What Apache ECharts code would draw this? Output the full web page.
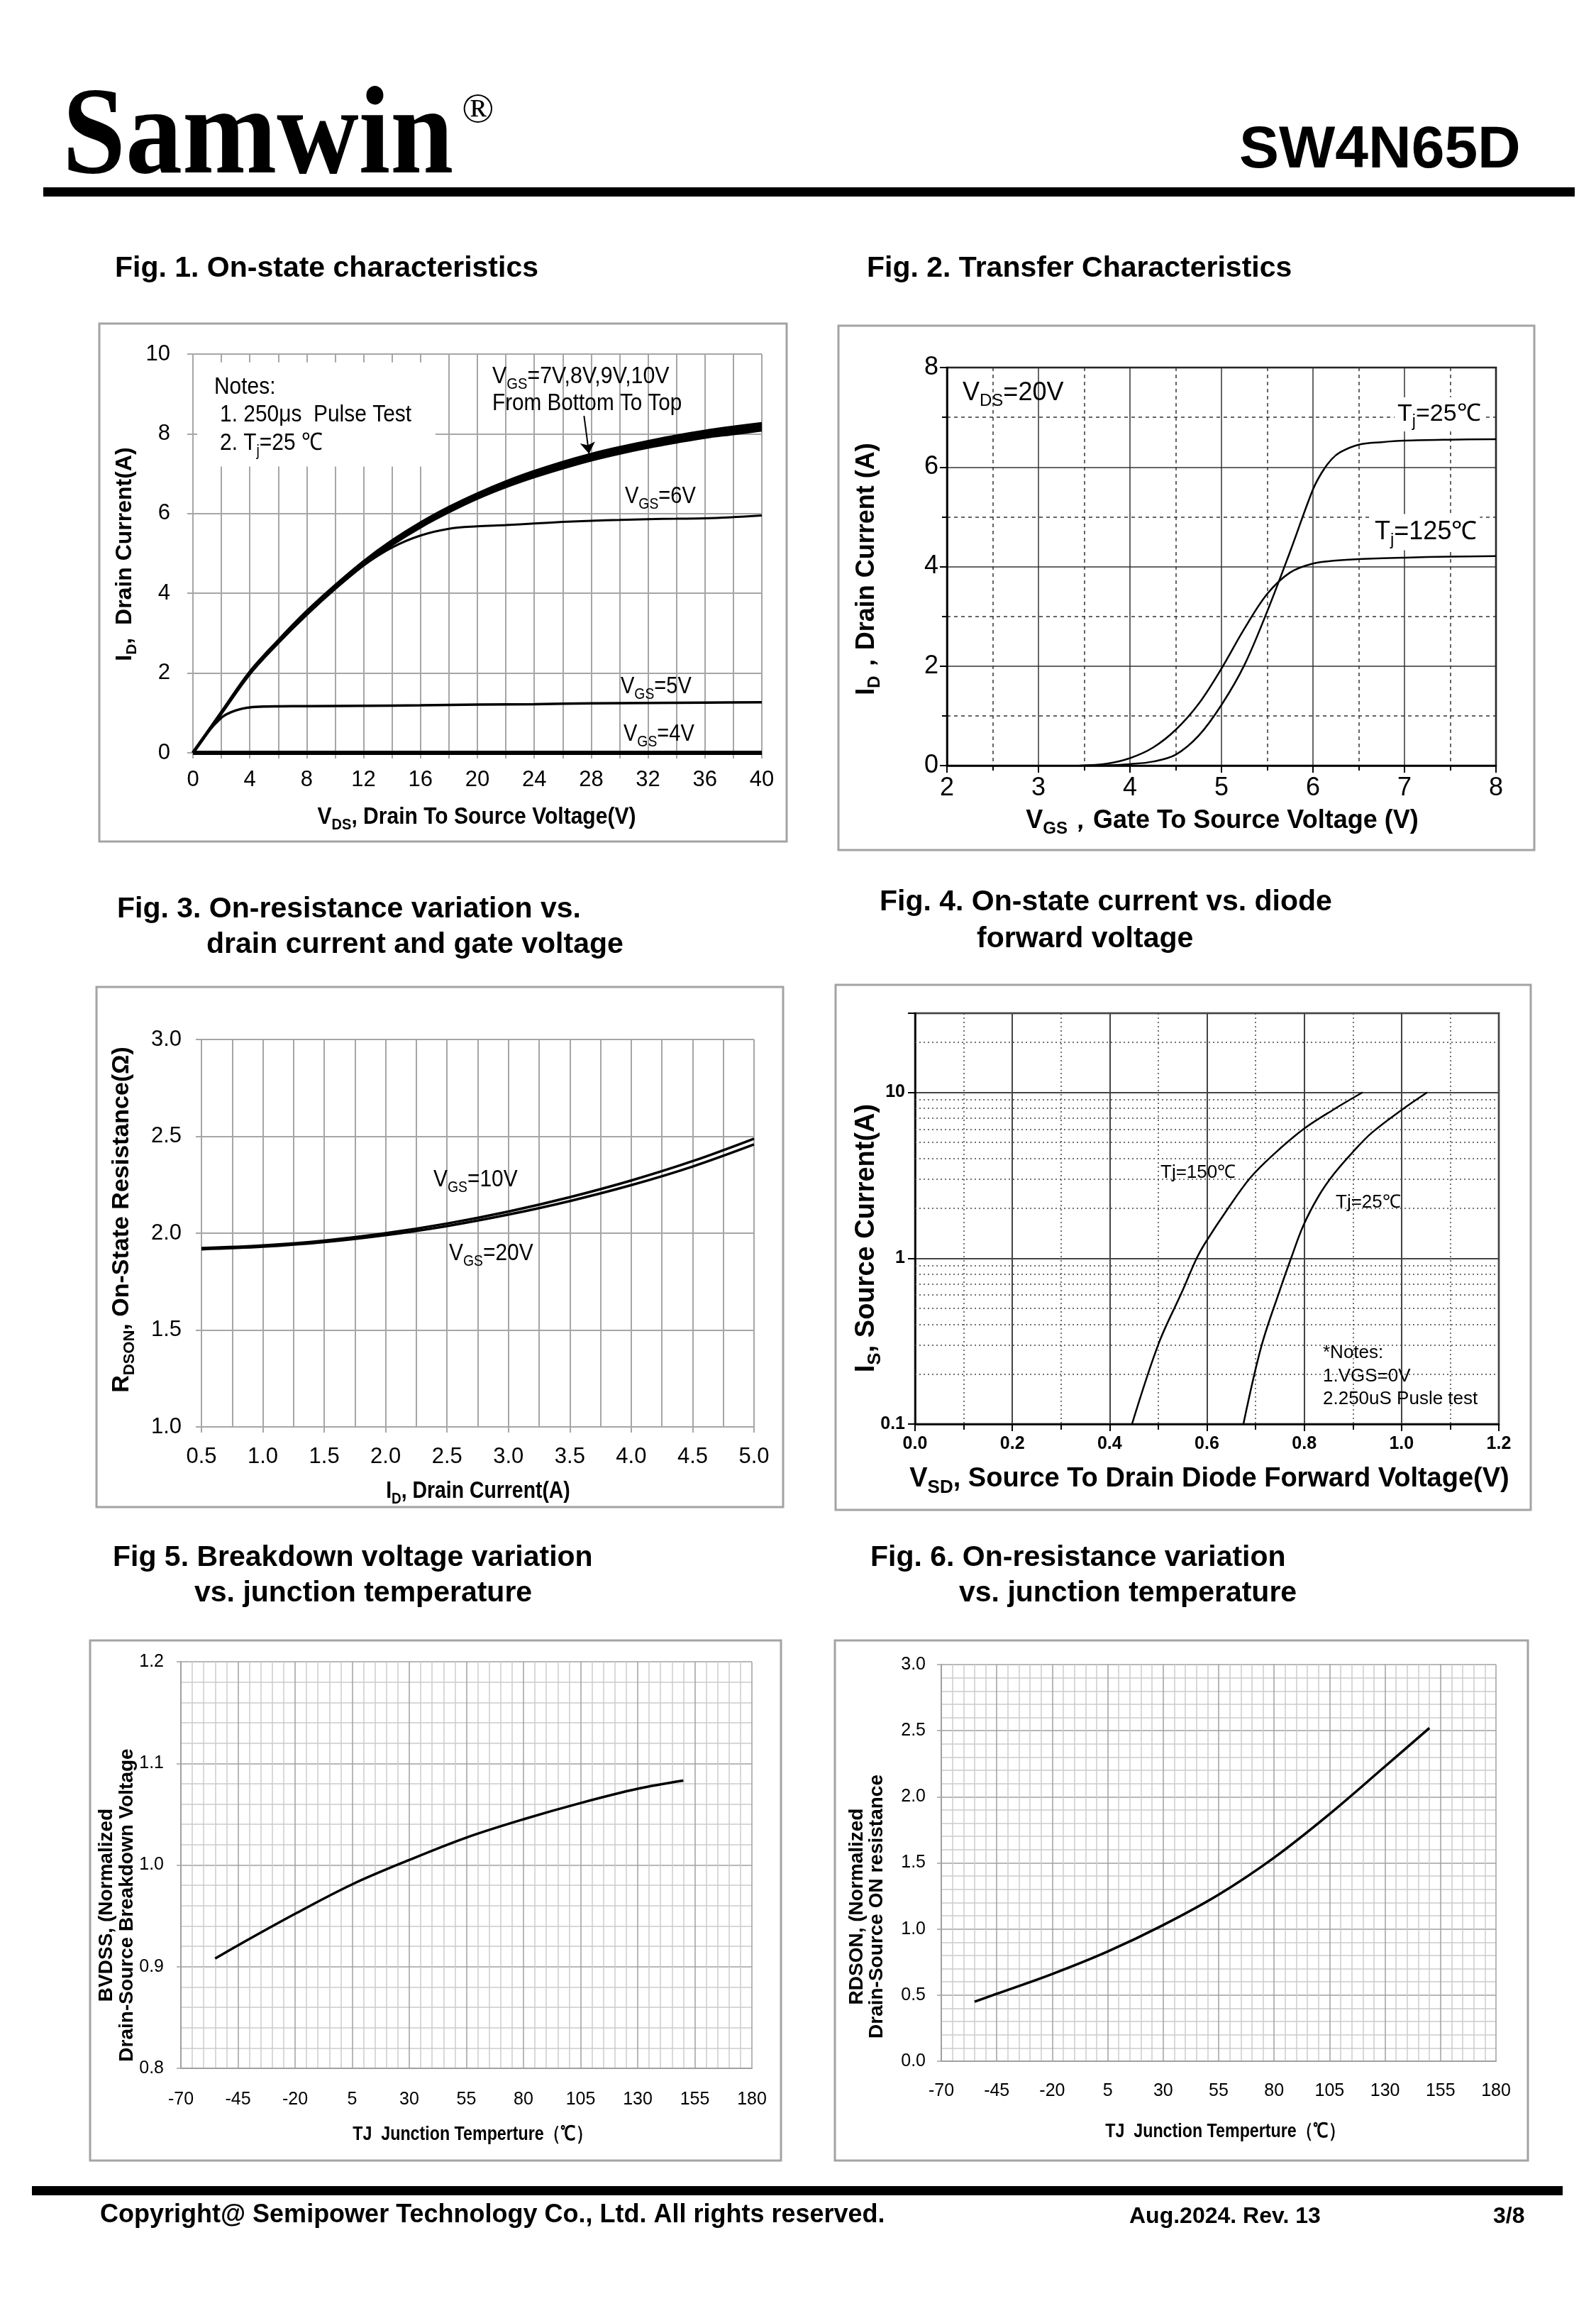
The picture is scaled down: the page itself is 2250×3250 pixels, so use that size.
<!DOCTYPE html>
<html><head><meta charset="utf-8">
<script src="https://cdn.jsdelivr.net/npm/echarts@6/dist/echarts.min.js"></script>
<style>html,body{margin:0;padding:0;background:#fff}#c{width:2250px;height:3250px}</style>
</head><body><div id="c"></div>
<script>
// ---------------- DATA ----------------
// Fig.1 On-state characteristics (VDS in V, ID in A)
const f1Vds = [0,2,4,6,8,10,12,14,16,18,20,22,24,26,28,30,32,34,36,38,40];
const f1Id10 = [0,1.02,2.03,2.82,3.55,4.20,4.80,5.32,5.77,6.16,6.50,6.80,7.06,7.29,7.49,7.66,7.81,7.95,8.07,8.17,8.26];
const f1Id9  = [0,1.01,2.02,2.80,3.53,4.18,4.77,5.28,5.74,6.12,6.46,6.75,7.01,7.24,7.44,7.61,7.76,7.89,8.01,8.11,8.20];
const f1Id8  = [0,1.00,2.00,2.78,3.50,4.15,4.74,5.25,5.70,6.08,6.42,6.71,6.97,7.19,7.39,7.56,7.71,7.84,7.96,8.06,8.15];
const f1Id7  = [0,0.99,1.98,2.76,3.47,4.12,4.71,5.22,5.66,6.04,6.38,6.67,6.92,7.14,7.34,7.51,7.66,7.79,7.91,8.00,8.09];
const f1Id6  = [0,0.99,1.98,2.76,3.47,4.12,4.70,5.15,5.45,5.62,5.68,5.71,5.75,5.79,5.82,5.84,5.86,5.87,5.88,5.91,5.95];
const f1Vds5 = [0,1,2,2.5,3,3.5,4,5,6,8,12,16,20,24,28,32,36,40];
const f1Id5  = [0,0.5,0.88,0.99,1.06,1.11,1.14,1.16,1.165,1.17,1.18,1.19,1.21,1.22,1.24,1.25,1.26,1.27];
const f1Vds4 = [0,40];
const f1Id4  = [0,0];
const f1XRange = [0,40,2];
const f1YRange = [0,10,2];

// Fig.2 Transfer characteristics (VGS in V, ID in A)
const f2Vgs25  = [3.5,3.75,4.0,4.25,4.5,4.75,5.0,5.25,5.5,5.75,6.0,6.1,6.2,6.3,6.5,6.75,7.0,7.5,8.0];
const f2Id25   = [0,0.005,0.03,0.08,0.22,0.6,1.22,2.02,3.1,4.3,5.55,5.9,6.15,6.3,6.45,6.5,6.53,6.55,6.56];
const f2Vgs125 = [3.45,3.75,4.0,4.25,4.5,4.75,5.0,5.25,5.5,5.75,6.0,6.25,6.5,7.0,7.5,8.0];
const f2Id125  = [0,0.04,0.15,0.36,0.72,1.24,1.95,2.75,3.45,3.88,4.06,4.12,4.15,4.18,4.2,4.21];
const f2XRange = [2,8,1];
const f2YRange = [0,8,2];

// Fig.3 RDS(on) vs drain current (ID in A, R in ohm)
const f3Id  = [0.5,1.0,1.5,2.0,2.5,3.0,3.5,4.0,4.5,5.0];
const f3R10 = [1.923,1.937,1.962,2.000,2.050,2.112,2.186,2.272,2.372,2.488];
const f3R20 = [1.917,1.930,1.954,1.990,2.037,2.096,2.166,2.248,2.344,2.458];
const f3XRange = [0.5,5,0.5];
const f3YRange = [1,3,0.5];

// Fig.4 Diode forward characteristics (VSD in V, IS in A, log)
const f4Vsd150 = [0.446,0.501,0.548,0.579,0.599,0.642,0.689,0.736,0.8,0.861,0.92];
const f4Is150  = [0.1,0.307,0.62,1.0,1.27,1.97,3.05,4.2,6.05,7.9,10];
const f4Vsd25  = [0.675,0.712,0.751,0.773,0.798,0.83,0.861,0.9,0.939,1.002,1.053];
const f4Is25   = [0.1,0.295,0.656,1.0,1.57,2.38,3.22,4.37,5.71,7.9,10];
const f4XRange = [0,1.2,0.2];
const f4YRange = [0.1,30];
const f4MinorY = [0.2,0.3,0.4,0.5,0.6,0.7,0.8,0.9,2,3,4,5,6,7,8,9,20];

// Fig.5 Normalized BVDSS vs TJ
const f5T  = [-55,-45,-20,5,30,55,80,105,130,150];
const f5BV = [0.908,0.921,0.952,0.981,1.005,1.027,1.045,1.061,1.075,1.083];
const f5XRange = [-70,180,5];
const f5YRange = [0.8,1.2,0.1];

// Fig.6 Normalized RDS(on) vs TJ
const f6T = [-55,-45,-20,5,30,55,80,105,130,150];
const f6R = [0.45,0.51,0.66,0.83,1.03,1.26,1.54,1.87,2.23,2.52];
const f6XRange = [-70,180,5];
const f6YRange = [0,3,0.5];

// ---------------- STYLE ----------------
const SANS = "'Liberation Sans',Arial,sans-serif";
const SERIF = "'Liberation Serif','Times New Roman',serif";
const G = '#a6a6a6';
const GM = '#a0a0a0';
const GL = '#cccccc';

function zip(a, b) { return a.map((x, i) => [x, b[i]]); }
function subRich(fm, fs, fam, wt, drop) {
  const LH = Math.round(fm * 1.3);
  const h = LH - 0.7 * (fm - fs) - 2 * drop;
  return {
    m: {fontSize: fm, fontFamily: fam, fontWeight: wt, lineHeight: LH, verticalAlign: 'middle', fill: '#000'},
    s: {fontSize: fs, fontFamily: fam, fontWeight: wt, lineHeight: h, verticalAlign: 'bottom', fill: '#000'}
  };
}
function txt(x, y, text, o) {
  o = o || {};
  const st = {text: text, fill: '#000', font: (o.weight || 'normal') + ' ' + (o.size || 32) + 'px ' + (o.family || SANS),
    align: o.align || 'left', verticalAlign: 'middle'};
  if (o.rich) st.rich = o.rich;
  if (o.bg) { st.backgroundColor = o.bg; st.padding = o.pad || [2, 4]; }
  return {type: 'text', x: x, y: y, rotation: o.rot || 0, scaleX: o.sx || 1, scaleY: o.sy || 1,
    z: 100, silent: true, style: st};
}
function frame(x, y, w, h) {
  return {type: 'rect', shape: {x: x, y: y, width: w, height: h}, z: 1, silent: true,
    style: {fill: 'none', stroke: '#a3a3a3', lineWidth: 3}};
}
function bar(x, y, w, h) {
  return {type: 'rect', shape: {x: x, y: y, width: w, height: h}, z: 1, silent: true, style: {fill: '#000'}};
}
function lineSeries(gi, xs, ys, width, extra) {
  return Object.assign({type: 'line', xAxisIndex: gi, yAxisIndex: gi, data: zip(xs, ys), symbol: 'none',
    showSymbol: false, smooth: 0.35, silent: true, animation: false, z: 5,
    lineStyle: {color: '#000', width: width}}, extra || {});
}
const fix1 = v => v.toFixed(1);
const lab = (fam, size, margin, weight, fmt) => ({fontFamily: fam, fontSize: size, margin: margin, color: '#000',
  fontWeight: weight || 'normal', formatter: fmt});

// ---------------- AXES ----------------
const grids = [
  {left: 272, top: 499, width: 802, height: 562},
  {left: 1335, top: 518, width: 774, height: 561, show: true, borderColor: '#000', borderWidth: 2.5},
  {left: 284, top: 1465, width: 779, height: 546},
  {left: 1290, top: 1428, width: 823, height: 579, show: true, borderColor: '#000', borderWidth: 2.5},
  {left: 255, top: 2342, width: 805, height: 573},
  {left: 1327, top: 2346, width: 782, height: 559}
];

const grayLine = (c, w) => ({lineStyle: {color: c, width: w}});
const xAxes = [
  {gridIndex: 0, type: 'value', min: f1XRange[0], max: f1XRange[1], interval: f1XRange[2],
    axisLine: Object.assign({onZero: false}, grayLine(G, 2)), axisTick: Object.assign({length: 8}, grayLine(G, 2)),
    splitLine: grayLine(G, 2), axisLabel: lab(SANS, 31, 23, 'normal', v => (v % 4 === 0 ? String(v) : ''))},
  {gridIndex: 1, type: 'value', min: f2XRange[0], max: f2XRange[1], interval: f2XRange[2],
    axisLine: {onZero: false, lineStyle: {color: '#000', width: 2.5}}, axisTick: {length: 10, lineStyle: {color: '#000', width: 2}},
    minorTick: {show: true, splitNumber: 2, length: 7, lineStyle: {color: '#000', width: 2}},
    splitLine: {lineStyle: {color: '#333', width: 1.5}},
    minorSplitLine: {show: true, lineStyle: {color: '#333', width: 1.5, type: [5, 5]}},
    axisLabel: lab(SANS, 36, 14)},
  {gridIndex: 2, type: 'value', min: f3XRange[0], max: f3XRange[1], interval: f3XRange[2],
    axisLine: Object.assign({onZero: false}, grayLine(G, 2)), axisTick: Object.assign({length: 8}, grayLine(G, 2)),
    splitLine: grayLine(G, 2), minorSplitLine: Object.assign({show: true}, grayLine(G, 2)), minorTick: {show: false, splitNumber: 2},
    axisLabel: lab(SANS, 31, 27, 'normal', fix1)},
  {gridIndex: 3, type: 'value', min: f4XRange[0], max: f4XRange[1], interval: f4XRange[2],
    axisLine: {onZero: false, lineStyle: {color: '#000', width: 2.5}}, axisTick: {length: 10, lineStyle: {color: '#000', width: 2}},
    minorTick: {show: true, splitNumber: 2, length: 8, lineStyle: {color: '#000', width: 2}},
    splitLine: {lineStyle: {color: '#444', width: 2}},
    minorSplitLine: {show: true, lineStyle: {color: '#444', width: 1.5, type: [2, 4]}},
    axisLabel: lab(SANS, 25, 16, 'bold', fix1)},
  {gridIndex: 4, type: 'value', min: f5XRange[0], max: f5XRange[1], interval: f5XRange[2],
    axisLine: Object.assign({onZero: false}, grayLine(GM, 2)), axisTick: {show: false},
    splitLine: {lineStyle: {color: [GM, GL, GL, GL, GL], width: 1.5}},
    axisLabel: lab(SANS, 25, 32, 'normal', v => ((v + 70) % 25 === 0 ? String(v) : ''))},
  {gridIndex: 5, type: 'value', min: f6XRange[0], max: f6XRange[1], interval: f6XRange[2],
    axisLine: Object.assign({onZero: false}, grayLine(GM, 2)), axisTick: {show: false},
    splitLine: {lineStyle: {color: [GM, GL, GL, GL, GL], width: 1.5}},
    axisLabel: lab(SANS, 25, 30, 'normal', v => ((v + 70) % 25 === 0 ? String(v) : ''))}
];
const yAxes = [
  {gridIndex: 0, type: 'value', min: f1YRange[0], max: f1YRange[1], interval: f1YRange[2],
    axisLine: Object.assign({show: true, onZero: false}, grayLine(G, 2)), axisTick: Object.assign({show: true, length: 8}, grayLine(G, 2)),
    splitLine: grayLine(G, 2), axisLabel: lab(SANS, 31, 32)},
  {gridIndex: 1, type: 'value', min: f2YRange[0], max: f2YRange[1], interval: f2YRange[2],
    axisLine: {show: true, onZero: false, lineStyle: {color: '#000', width: 2.5}}, axisTick: {show: true, length: 10, lineStyle: {color: '#000', width: 2}},
    minorTick: {show: true, splitNumber: 2, length: 7, lineStyle: {color: '#000', width: 2}},
    splitLine: {lineStyle: {color: '#333', width: 1.5}},
    minorSplitLine: {show: true, lineStyle: {color: '#333', width: 1.5, type: [5, 5]}},
    axisLabel: lab(SANS, 36, 12)},
  {gridIndex: 2, type: 'value', min: f3YRange[0], max: f3YRange[1], interval: f3YRange[2],
    axisLine: Object.assign({show: true, onZero: false}, grayLine(G, 2)), axisTick: Object.assign({show: true, length: 8}, grayLine(G, 2)),
    splitLine: grayLine(G, 2), axisLabel: lab(SANS, 31, 28, 'normal', fix1)},
  {gridIndex: 3, type: 'log', logBase: 10, min: f4YRange[0], max: f4YRange[1],
    axisLine: {show: true, onZero: false, lineStyle: {color: '#000', width: 2.5}}, axisTick: {show: true, length: 10, lineStyle: {color: '#000', width: 2}},
    splitLine: {lineStyle: {color: '#444', width: 2}},
    axisLabel: lab(SANS, 25, 14, 'bold', v => {
      const e = Math.log10(v);
      if (Math.abs(e - Math.round(e)) > 1e-6 || v > 10.001) return '';
      return v < 1 ? '0.1' : String(Math.round(v));
    })},
  {gridIndex: 4, type: 'value', min: f5YRange[0], max: f5YRange[1], interval: f5YRange[2],
    axisLine: Object.assign({show: true, onZero: false}, grayLine(GM, 2)), axisTick: Object.assign({show: true, length: 6}, grayLine(GM, 1.5)),
    splitLine: grayLine(GM, 1.5), minorTick: {show: false, splitNumber: 5},
    minorSplitLine: Object.assign({show: true}, grayLine(GL, 1.5)),
    axisLabel: lab(SANS, 25, 24, 'normal', fix1)},
  {gridIndex: 5, type: 'value', min: f6YRange[0], max: f6YRange[1], interval: f6YRange[2],
    axisLine: Object.assign({show: true, onZero: false}, grayLine(GM, 2)), axisTick: Object.assign({show: true, length: 6}, grayLine(GM, 1.5)),
    splitLine: grayLine(GM, 1.5), minorTick: {show: false, splitNumber: 5},
    minorSplitLine: Object.assign({show: true}, grayLine(GL, 1.5)),
    axisLabel: lab(SANS, 25, 22, 'normal', fix1)}
];

// ---------------- SERIES ----------------
const series = [
  lineSeries(0, f1Vds, f1Id7, 4),
  lineSeries(0, f1Vds, f1Id8, 4),
  lineSeries(0, f1Vds, f1Id9, 4),
  lineSeries(0, f1Vds, f1Id10, 4, {
    markLine: {silent: true, symbol: ['none', 'arrow'], symbolSize: 16, animation: false,
      lineStyle: {color: '#000', width: 2, type: 'solid'}, label: {show: false},
      data: [[{coord: [27.5, 8.45]}, {coord: [27.85, 7.5]}]]}
  }),
  lineSeries(0, f1Vds, f1Id6, 3),
  lineSeries(0, f1Vds5, f1Id5, 3.5),
  lineSeries(0, f1Vds4, f1Id4, 6, {
    markArea: {silent: true, itemStyle: {color: '#fff'}, animation: false,
      data: [[{coord: [0.3, 7.18]}, {coord: [17.05, 9.79]}]]}
  }),
  lineSeries(1, f2Vgs25, f2Id25, 2.5),
  lineSeries(1, f2Vgs125, f2Id125, 2.5),
  lineSeries(2, f3Id, f3R10, 3.5),
  lineSeries(2, f3Id, f3R20, 3.5),
  lineSeries(3, f4Vsd150, f4Is150, 2.5, {
    markLine: {silent: true, symbol: 'none', animation: false, label: {show: false},
      lineStyle: {color: '#444', width: 1.5, type: [2, 4]},
      data: f4MinorY.map(v => ({yAxis: v}))}
  }),
  lineSeries(3, f4Vsd25, f4Is25, 2.5),
  lineSeries(4, f5T, f5BV, 3.5),
  lineSeries(5, f6T, f6R, 3.5)
];

// ---------------- TEXT / LAYOUT ----------------
const PI2 = Math.PI / 2;
const NX = 0.88; // horizontal condensing for narrow-style text
const rN = subRich(33, 22, SANS, 'normal', 6);
const graphic = [
  // header
  txt(88, 198, 'Samwin', {size: 160, weight: 'bold', family: SERIF, sy: 1.1}),
  txt(651, 156, '®', {size: 60, family: SERIF}),
  txt(1747, 213, 'SW4N65D', {size: 84, weight: 'bold'}),
  bar(61, 264, 2159, 13),
  // footer
  bar(45, 3081, 2158, 13),
  txt(141, 3122, 'Copyright@ Semipower Technology Co., Ltd. All rights reserved.', {size: 36, weight: 'bold'}),
  txt(1592, 3124, 'Aug.2024. Rev. 13', {size: 32, weight: 'bold'}),
  txt(2105, 3124, '3/8', {size: 32, weight: 'bold'}),
  // figure titles
  txt(162, 379, 'Fig. 1. On-state characteristics', {size: 41, weight: 'bold'}),
  txt(1222, 379, 'Fig. 2. Transfer Characteristics', {size: 41, weight: 'bold'}),
  txt(165, 1282, 'Fig. 3. On-resistance variation vs.', {size: 41, weight: 'bold'}),
  txt(291, 1332, 'drain current and gate voltage', {size: 41, weight: 'bold'}),
  txt(1240, 1272, 'Fig. 4. On-state current vs. diode', {size: 41, weight: 'bold'}),
  txt(1377, 1324, 'forward voltage', {size: 41, weight: 'bold'}),
  txt(159, 2196, 'Fig 5. Breakdown voltage variation', {size: 41, weight: 'bold'}),
  txt(274, 2246, 'vs. junction temperature', {size: 41, weight: 'bold'}),
  txt(1227, 2196, 'Fig. 6. On-resistance variation', {size: 41, weight: 'bold'}),
  txt(1352, 2246, 'vs. junction temperature', {size: 41, weight: 'bold'}),
  // frames
  frame(140, 456, 969, 730), frame(1182, 459, 981, 739), frame(136, 1391, 968, 733),
  frame(1178, 1388, 980, 740), frame(127, 2312, 974, 733), frame(1177, 2312, 977, 733),
  // Fig1 text
  txt(302, 546, 'Notes:', {size: 34, sx: NX}),
  txt(310, 585, '1. 250μs  Pulse Test', {size: 34, sx: NX}),
  txt(310, 625, '{m|2. T}{s|j}{m|=25 ℃}', {rich: subRich(34, 22, SANS, 'normal', 6), sx: NX}),
  txt(694, 531, '{m|V}{s|GS}{m|=7V,8V,9V,10V}', {rich: rN, sx: 0.92}),
  txt(694, 569, 'From Bottom To Top', {size: 33, sx: 0.9}),
  txt(881, 700, '{m|V}{s|GS}{m|=6V}', {rich: rN, sx: NX}),
  txt(875, 968, '{m|V}{s|GS}{m|=5V}', {rich: rN, sx: NX}),
  txt(879, 1035, '{m|V}{s|GS}{m|=4V}', {rich: rN, sx: NX}),
  txt(176, 781, '{m|I}{s|D}{m|,  Drain Current(A)}', {rot: PI2, align: 'center', rich: subRich(32, 21, SANS, 'bold', 6)}),
  txt(672, 1152, '{m|V}{s|DS}{m|, Drain To Source Voltage(V)}', {align: 'center', sx: 0.91, rich: subRich(33, 22, SANS, 'bold', 6)}),
  // Fig2 text
  txt(1357, 554, '{m|V}{s|DS}{m|=20V}', {rich: subRich(36, 24, SANS, 'normal', 0)}),
  txt(1966, 584, '{m|T}{s|j}{m|=25℃}', {rich: subRich(34, 23, SANS, 'normal', 5), bg: '#fff', pad: [2, 4]}),
  txt(1934, 750, '{m|T}{s|j}{m|=125℃}', {rich: subRich(36, 24, SANS, 'normal', 5), bg: '#fff', pad: [2, 4]}),
  txt(1723, 1157, '{m|V}{s|GS}{m|，Gate To Source Voltage (V)}', {align: 'center', rich: subRich(36, 24, SANS, 'bold', 0)}),
  txt(1222, 802, '{m|I}{s|D}{m|，Drain Current (A)}', {rot: PI2, align: 'center', rich: subRich(36, 24, SANS, 'bold', 0)}),
  // Fig3 text
  txt(611, 1663, '{m|V}{s|GS}{m|=10V}', {rich: subRich(34, 22, SANS, 'normal', 6), sx: NX}),
  txt(633, 1767, '{m|V}{s|GS}{m|=20V}', {rich: subRich(34, 22, SANS, 'normal', 6), sx: NX}),
  txt(172, 1719, '{m|R}{s|DSON}{m|, On-State Resistance(Ω)}', {rot: PI2, align: 'center', rich: subRich(34, 22, SANS, 'bold', 5)}),
  txt(674, 2102, '{m|I}{s|D}{m|, Drain Current(A)}', {align: 'center', sx: 0.86, rich: subRich(33, 22, SANS, 'bold', 6)}),
  // Fig4 text
  txt(1636, 1653, 'Tj=150℃', {size: 26}),
  txt(1883, 1695, 'Tj=25℃', {size: 26}),
  txt(1865, 1907, '*Notes:', {size: 26}),
  txt(1865, 1940, '1.VGS=0V', {size: 26}),
  txt(1865, 1972, '2.250uS Pusle test', {size: 26}),
  txt(1222, 1745, '{m|I}{s|S}{m|, Source Current(A)}', {rot: PI2, align: 'center', rich: subRich(38, 26, SANS, 'bold', 0)}),
  txt(1705, 2085, '{m|V}{s|SD}{m|, Source To Drain Diode Forward Voltage(V)}', {align: 'center', rich: subRich(38, 26, SANS, 'bold', 0)}),
  // Fig5 text
  txt(150, 2685, 'BVDSS, (Normalized', {rot: PI2, align: 'center', size: 28, weight: 'bold'}),
  txt(179, 2685, 'Drain-Source Breakdown Voltage', {rot: PI2, align: 'center', size: 28, weight: 'bold'}),
  txt(666, 3008, 'TJ  Junction Temperture（℃）', {align: 'center', size: 28, weight: 'bold', sx: 0.83}),
  // Fig6 text
  txt(1208, 2687, 'RDSON, (Normalized', {rot: PI2, align: 'center', size: 28, weight: 'bold'}),
  txt(1236, 2687, 'Drain-Source ON resistance', {rot: PI2, align: 'center', size: 28, weight: 'bold'}),
  txt(1727, 3004, 'TJ  Junction Temperture（℃）', {align: 'center', size: 28, weight: 'bold', sx: 0.83})
];

const chart = echarts.init(document.getElementById('c'), null, {renderer: 'canvas', width: 2250, height: 3250});
chart.setOption({
  backgroundColor: '#fff',
  animation: false,
  grid: grids,
  xAxis: xAxes,
  yAxis: yAxes,
  series: series,
  graphic: graphic
});
</script>
</body></html>
